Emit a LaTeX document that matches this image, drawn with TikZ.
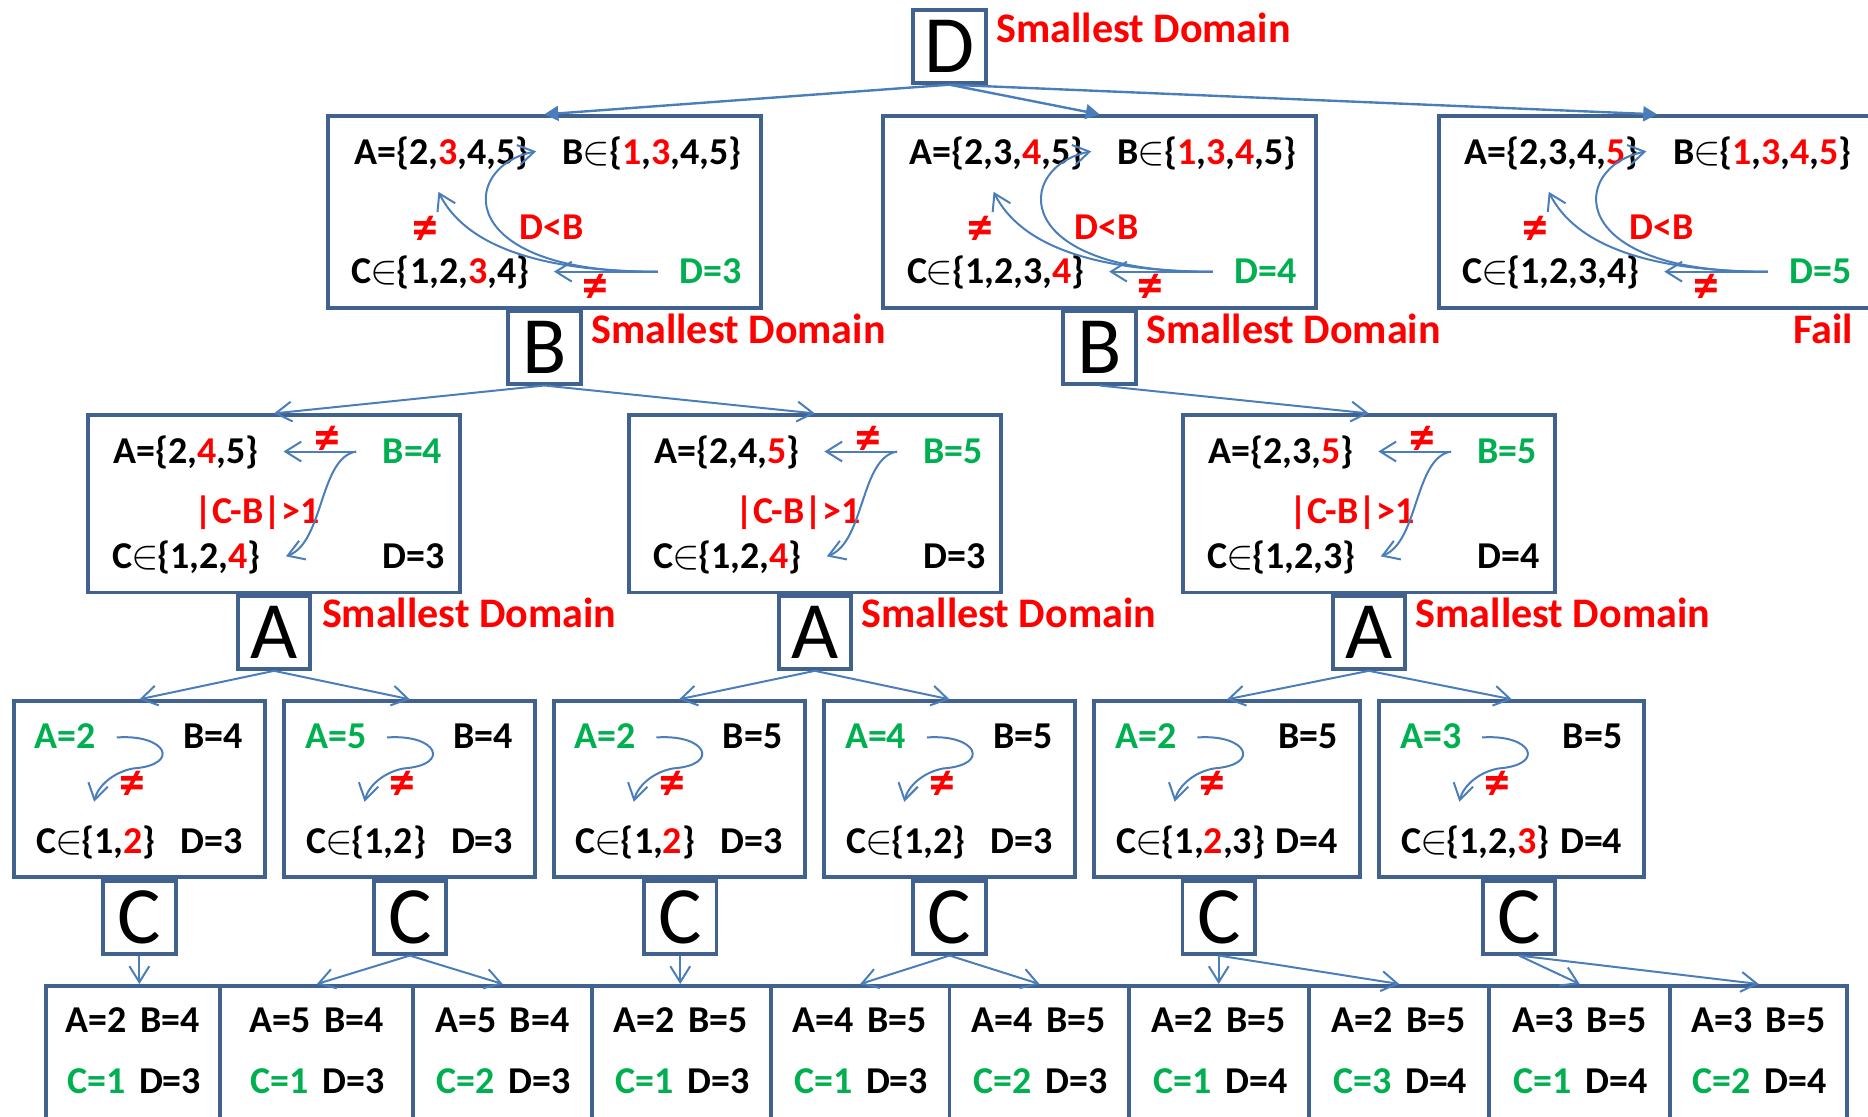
\documentclass[tikz,border=0pt]{standalone}
\usepackage{fontspec}
\setmainfont{Carlito}
\usepackage{xcolor}
\usetikzlibrary{arrows.meta}
\definecolor{boxblue}{HTML}{41618F}
\definecolor{lineblue}{HTML}{4A7EBB}
\definecolor{pickgreen}{HTML}{00B050}
\newcommand{\rd}[1]{\textcolor{red}{#1}}
\newcommand{\el}{\kern-0.6pt$\in$\kern-0.6pt}

\begin{document}
\begin{tikzpicture}[x=0.6pt,y=-0.6pt,
    box/.style={draw=boxblue,line width=2pt,inner sep=0pt},
    var/.style={box,fill=white,minimum size=36.5pt,font=\fontsize{41}{41}\selectfont},
    lvlone/.style={box,minimum width=217.8pt,minimum height=96.4pt},
    lvltwo/.style={box,minimum width=187.6pt,minimum height=89.2pt},
    lvlthree/.style={box,minimum width=126.4pt,minimum height=88.6pt},
    txt/.style={inner sep=0pt,anchor=base west,font=\fontsize{19.1}{22}\selectfont\bfseries},
    pick/.style={txt,text=pickgreen},
    note/.style={txt,text=red},
    neq/.style={note,anchor=center,font=\fontsize{26}{26}\selectfont\bfseries},
    sd/.style={inner sep=0pt,anchor=base west,text=red,font=\fontsize{21.2}{24}\selectfont\bfseries},
    link/.style={draw=lineblue,line width=1pt,-{Straight Barb[length=8pt,width=10pt]}},
    root/.style={draw=lineblue,line width=1.2pt,-{Triangle[length=7pt,width=7.5pt]}}]
    \useasboundingbox (0,0) rectangle (1568,937);
    \clip (0,0) rectangle (1568,937);

    % first level: D chosen
    \node[lvlone] (one1) at (457,178) {};
    \node[lvlone] (one2) at (923,178) {};
    \node[lvlone,minimum width=219.8pt] (one3) at (1391,178) {};

    \node[txt] (one1A) at (297,138) {A=\{2,\rd{3},4,5\}};
    \node[txt] (one1B) at (472,138) {B\el\{\rd{1},\rd{3},4,5\}};
    \node[txt] (one1C) at (295,238) {C\el\{1,2,\rd{3},4\}};
    \node[pick] (one1D) at (570,238) {D=3};
    \node[neq] (one1n) at (357,193) {≠};
    \node[note,anchor=base] (one1r) at (463,201) {D<B};
    \node[neq] (one1m) at (500,242) {≠};
    \draw[link] ([shift={(-18,-10)}]one1D.base west) -- ([shift={(170,-10)}]one1C.base west);
    \draw[link] ([shift={(-18,-10)}]one1D.base west) .. controls +(-102,0) and +(22,44) .. ([shift={(71,23)}]one1A.base west);
    \draw[link] ([shift={(-18,-10)}]one1D.base west) .. controls +(-172,2) and +(-65,13) .. ([shift={(-22,-11)}]one1B.base west);

    \node[txt] (one2A) at (763,138) {A=\{2,3,\rd{4},5\}};
    \node[txt] (one2B) at (938,138) {B\el\{\rd{1},\rd{3},\rd{4},5\}};
    \node[txt] (one2C) at (761,238) {C\el\{1,2,3,\rd{4}\}};
    \node[pick] (one2D) at (1036,238) {D=4};
    \node[neq] (one2n) at (823,193) {≠};
    \node[note,anchor=base] (one2r) at (929,201) {D<B};
    \node[neq] (one2m) at (966,242) {≠};
    \draw[link] ([shift={(-18,-10)}]one2D.base west) -- ([shift={(170,-10)}]one2C.base west);
    \draw[link] ([shift={(-18,-10)}]one2D.base west) .. controls +(-102,0) and +(22,44) .. ([shift={(71,23)}]one2A.base west);
    \draw[link] ([shift={(-18,-10)}]one2D.base west) .. controls +(-172,2) and +(-65,13) .. ([shift={(-22,-11)}]one2B.base west);

    \node[txt] (one3A) at (1229,138) {A=\{2,3,4,\rd{5}\}};
    \node[txt] (one3B) at (1404,138) {B\el\{\rd{1},\rd{3},\rd{4},\rd{5}\}};
    \node[txt] (one3C) at (1227,238) {C\el\{1,2,3,4\}};
    \node[pick] (one3D) at (1502,238) {D=5};
    \node[neq] (one3n) at (1289,193) {≠};
    \node[note,anchor=base] (one3r) at (1395,201) {D<B};
    \node[neq] (one3m) at (1432,242) {≠};
    \draw[link] ([shift={(-18,-10)}]one3D.base west) -- ([shift={(170,-10)}]one3C.base west);
    \draw[link] ([shift={(-18,-10)}]one3D.base west) .. controls +(-102,0) and +(22,44) .. ([shift={(71,23)}]one3A.base west);
    \draw[link] ([shift={(-18,-10)}]one3D.base west) .. controls +(-172,2) and +(-65,13) .. ([shift={(-22,-11)}]one3B.base west);

    % second level: B chosen
    \node[lvltwo] (two1) at (230,423) {};
    \node[lvltwo] (two2) at (684,423) {};
    \node[lvltwo] (two3) at (1149,423) {};

    \node[txt] (two1A) at (95,389) {A=\{2,\rd{4},5\}};
    \node[pick] (two1B) at (321,389) {B=4};
    \node[note] (two1r) at (163,439) {|C-B|>1};
    \node[txt] (two1C) at (94,477) {C\el\{1,2,\rd{4}\}};
    \node[txt] (two1D) at (321,477) {D=3};
    \node[neq] (two1n) at (275,370) {≠};
    \draw[link] ([shift={(-22,-10)}]two1B.base west) -- ([shift={(143,-10)}]two1A.base west);
    \draw[link] ([shift={(-22,-10)}]two1B.base west) .. controls +(-31,5) and +(32,-12) .. ([shift={(146,-10)}]two1C.base west);

    \node[txt] (two2A) at (549,389) {A=\{2,4,\rd{5}\}};
    \node[pick] (two2B) at (775,389) {B=5};
    \node[note] (two2r) at (617,439) {|C-B|>1};
    \node[txt] (two2C) at (548,477) {C\el\{1,2,\rd{4}\}};
    \node[txt] (two2D) at (775,477) {D=3};
    \node[neq] (two2n) at (729,370) {≠};
    \draw[link] ([shift={(-22,-10)}]two2B.base west) -- ([shift={(143,-10)}]two2A.base west);
    \draw[link] ([shift={(-22,-10)}]two2B.base west) .. controls +(-31,5) and +(32,-12) .. ([shift={(146,-10)}]two2C.base west);

    \node[txt] (two3A) at (1014,389) {A=\{2,3,\rd{5}\}};
    \node[pick] (two3B) at (1240,389) {B=5};
    \node[note] (two3r) at (1082,439) {|C-B|>1};
    \node[txt] (two3C) at (1013,477) {C\el\{1,2,3\}};
    \node[txt] (two3D) at (1240,477) {D=4};
    \node[neq] (two3n) at (1194,370) {≠};
    \draw[link] ([shift={(-22,-10)}]two3B.base west) -- ([shift={(143,-10)}]two3A.base west);
    \draw[link] ([shift={(-22,-10)}]two3B.base west) .. controls +(-31,5) and +(32,-12) .. ([shift={(146,-10)}]two3C.base west);

    % third level: A chosen
    \node[lvlthree] (three1) at (117,662.5) {};
    \node[lvlthree] (three2) at (344,662.5) {};
    \node[lvlthree] (three3) at (570,662.5) {};
    \node[lvlthree] (three4) at (797,662.5) {};
    \node[lvlthree,minimum width=133.6pt] (three5) at (1030,662.5) {};
    \node[lvlthree,minimum width=133.6pt] (three6) at (1269,662.5) {};

    \node[pick] (three1A) at (29,628) {A=2};
    \node[txt,anchor=base east] (three1B) at (204,628) {B=4};
    \node[txt] (three1C) at (30,716) {C\el\{1,\rd{2}\}};
    \node[txt,anchor=base east] (three1D) at (204,716) {D=3};
    \node[neq] (three1n) at (111,659) {≠};

    \node[pick] (three2A) at (256,628) {A=5};
    \node[txt,anchor=base east] (three2B) at (431,628) {B=4};
    \node[txt] (three2C) at (257,716) {C\el\{1,2\}};
    \node[txt,anchor=base east] (three2D) at (431,716) {D=3};
    \node[neq] (three2n) at (338,659) {≠};

    \node[pick] (three3A) at (482,628) {A=2};
    \node[txt,anchor=base east] (three3B) at (657,628) {B=5};
    \node[txt] (three3C) at (483,716) {C\el\{1,\rd{2}\}};
    \node[txt,anchor=base east] (three3D) at (657,716) {D=3};
    \node[neq] (three3n) at (564,659) {≠};

    \node[pick] (three4A) at (709,628) {A=4};
    \node[txt,anchor=base east] (three4B) at (884,628) {B=5};
    \node[txt] (three4C) at (710,716) {C\el\{1,2\}};
    \node[txt,anchor=base east] (three4D) at (884,716) {D=3};
    \node[neq] (three4n) at (791,659) {≠};

    \node[pick] (three5A) at (936,628) {A=2};
    \node[txt,anchor=base east] (three5B) at (1123,628) {B=5};
    \node[txt] (three5C) at (937,716) {C\el\{1,\rd{2},3\}};
    \node[txt,anchor=base east] (three5D) at (1123,716) {D=4};
    \node[neq] (three5n) at (1018,659) {≠};

    \node[pick] (three6A) at (1175,628) {A=3};
    \node[txt,anchor=base east] (three6B) at (1362,628) {B=5};
    \node[txt] (three6C) at (1176,716) {C\el\{1,2,\rd{3}\}};
    \node[txt,anchor=base east] (three6D) at (1362,716) {D=4};
    \node[neq] (three6n) at (1257,659) {≠};

    \foreach \i in {1,...,6}
      \draw[link] ([shift={(69,-9)}]three\i A.base west) .. controls +(42,-3) and +(40,-3) .. ([shift={(83,17)}]three\i A.base west) .. controls +(-17,3) and +(3,-13) .. ([shift={(49,-43)}]three\i C.base west);

    % leaves: C chosen
    \foreach \cx/\w/\a/\b/\c/\d [count=\i] in {111.75/87.9/2/4/1/3, 266/97.2/5/4/1/3, 422/90/5/4/2/3, 572/90/2/5/1/3, 722/90/4/5/1/3, 872.5/90.6/4/5/2/3, 1023.5/90.6/2/5/1/4, 1174.5/90.6/2/5/3/4, 1326/91.2/3/5/1/4, 1476.25/89.1/3/5/2/4}{
      \node[box,minimum width=\w pt,minimum height=79.4pt] (leaf\i) at (\cx,893.8) {};
      \node[txt,anchor=base] (leafA\i) at (\cx-31,867) {A=\a};
      \node[txt,anchor=base] (leafB\i) at (\cx+31,867) {B=\b};
      \node[pick,anchor=base] (leafC\i) at (\cx-31,918) {C=\c};
      \node[txt,anchor=base] (leafD\i) at (\cx+31,918) {D=\d};
    }

    % variable boxes
    \node[var] (vD) at (797,39) {D};
    \node[var] (vB1) at (457,291.5) {B};
    \node[var] (vB2) at (923,291.5) {B};
    \node[var] (vA1) at (230,531) {A};
    \node[var] (vA2) at (684,531) {A};
    \node[var] (vA3) at (1149,531) {A};
    \node[var] (vC1) at (117,770) {C};
    \node[var] (vC2) at (344,770) {C};
    \node[var] (vC3) at (571,770) {C};
    \node[var] (vC4) at (797,770) {C};
    \node[var] (vC5) at (1023,770) {C};
    \node[var] (vC6) at (1275,770) {C};

    \node[sd] (sdD) at (836,36) {Smallest Domain};
    \node[sd] (sdB1) at (496,288) {Smallest Domain};
    \node[sd] (sdB2) at (962,288) {Smallest Domain};
    \node[sd] (sdA1) at (270,527) {Smallest Domain};
    \node[sd] (sdA2) at (723,527) {Smallest Domain};
    \node[sd] (sdA3) at (1188,527) {Smallest Domain};
    \node[sd] (fail) at (1505,288) {Fail};

    % tree edges
    \draw[root] (vD.south) -- (one1.north);
    \draw[root] (vD.south) -- (one2.north);
    \draw[root] (vD.south) -- (one3.north);
    \draw[link] (vB1.south) -- (two1.north);
    \draw[link] (vB1.south) -- (two2.north);
    \draw[link] (vB2.south) -- (two3.north);
    \draw[link] (vA1.south) -- (three1.north);
    \draw[link] (vA1.south) -- (three2.north);
    \draw[link] (vA2.south) -- (three3.north);
    \draw[link] (vA2.south) -- (three4.north);
    \draw[link] (vA3.south) -- (three5.north);
    \draw[link] (vA3.south) -- (three6.north);
    \draw[link] (vC1.south) -- (vC1.south |- leaf1.north);
    \draw[link] (vC2.south) -- (leaf2.north);
    \draw[link] (vC2.south) -- (leaf3.north);
    \draw[link] (vC3.south) -- (vC3.south |- leaf4.north);
    \draw[link] (vC4.south) -- (leaf5.north);
    \draw[link] (vC4.south) -- (leaf6.north);
    \draw[link] (vC5.south) -- (vC5.south |- leaf7.north);
    \draw[link] (vC5.south) -- (leaf8.north);
    \draw[link] (vC6.south) -- (leaf9.north);
    \draw[link] (vC6.south) -- (leaf10.north);
\end{tikzpicture}
\end{document}
